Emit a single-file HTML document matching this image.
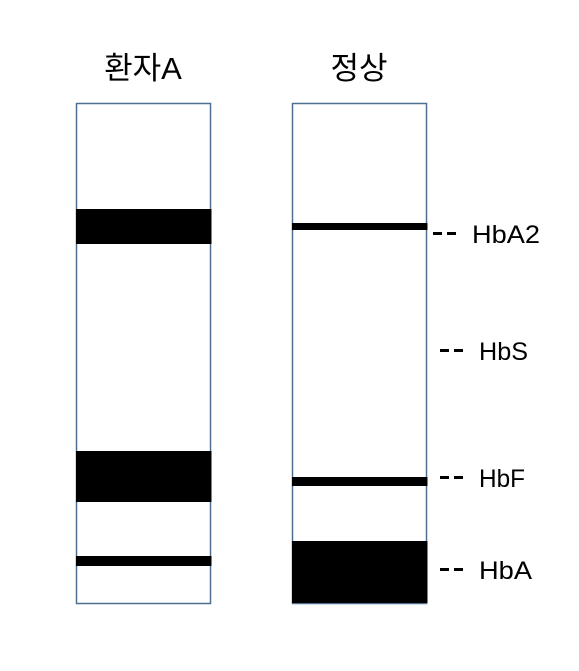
<!DOCTYPE html>
<html><head><meta charset="utf-8"><style>
body{margin:0;background:#fff;width:579px;height:666px;overflow:hidden}
svg text{font-family:"Liberation Sans","Noto Sans CJK KR",sans-serif;fill:#000}
</style></head><body>
<svg width="579" height="666">
<g id="lanes"></g><g id="labels"></g>
</svg>
<script>
const laneNames=["환자A","정상"];
const laneBands=[[[209,244],[451,502],[556,566]],[[223,230],[477,486],[541,603]]];
const markerNames=["HbA2","HbS","HbF","HbA"];
const markerY=[234,351,478,570];
const markerX=[433,440,440,440];
const markerW=[68,49,46,53];
const NS="http://www.w3.org/2000/svg";
const lanesG=document.getElementById('lanes');
const labelsG=document.getElementById('labels');
function mk(t,a,p){const e=document.createElementNS(NS,t);for(const k in a)e.setAttribute(k,a[k]);p.appendChild(e);return e;}
const laneX=[76,292],laneW=134,laneTop=103,laneBot=603;
laneNames.forEach((n,i)=>{
  const g=mk('g',{},lanesG);
  
  
  const t=mk('text',{x:laneX[i]+laneW/2,y:79,'text-anchor':'middle','font-size':31},g);t.textContent=n;
  
  
  const r=mk('rect',{x:laneX[i]+0.5,y:laneTop+0.5,width:laneW,height:laneBot-laneTop,fill:'#fff',stroke:'#4f6f91','stroke-width':1.5},g);
  
  
  laneBands[i].forEach(b=>{
    const br=mk('rect',{x:laneX[i],y:b[0],width:laneW+1.5,height:b[1]-b[0],fill:'#000'},g);
    
    
  });
});
markerNames.forEach((n,i)=>{
  const g=mk('g',{},labelsG);
  
  
  const x=markerX[i],y=markerY[i];
  mk('line',{x1:x,y1:y-0.5,x2:x+24,y2:y-0.5,stroke:'#000','stroke-width':3,'stroke-dasharray':'9,5'},g);
  const t=mk('text',{x:x+39,y:y+9,'font-size':25,textLength:markerW[i],lengthAdjust:'spacingAndGlyphs'},g);t.textContent=n;
});
</script>
</body></html>
